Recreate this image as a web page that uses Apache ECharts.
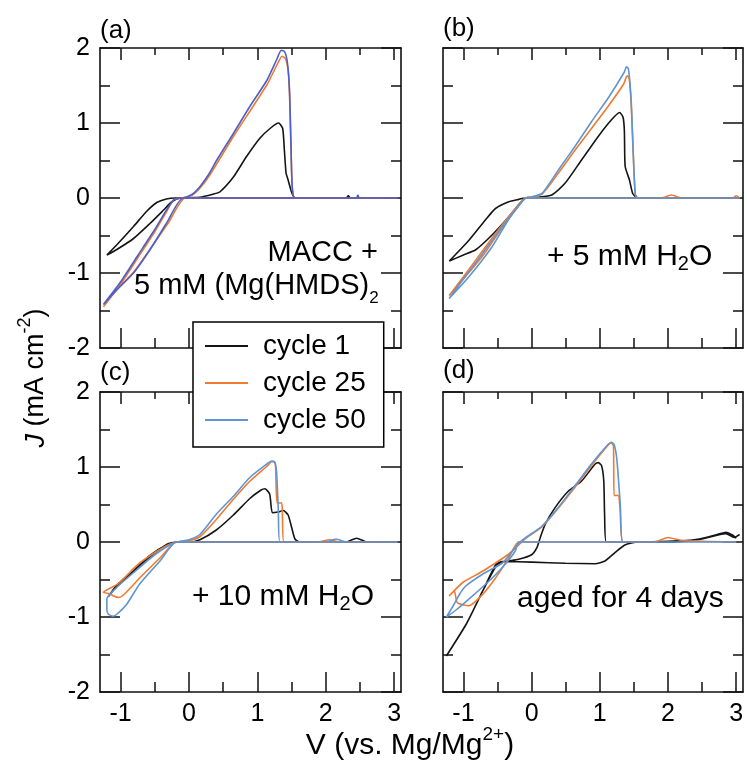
<!DOCTYPE html>
<html><head><meta charset="utf-8">
<script src="https://cdn.jsdelivr.net/npm/echarts@6/dist/echarts.min.js"></script>
<style>html,body{margin:0;padding:0;background:#fff}
#wrap{position:relative;width:747px;height:773px}
.l{position:absolute;left:0;top:0;width:747px;height:773px}</style>
</head><body><div id="wrap">
<div class="l" id="p0"></div><div class="l" id="p1"></div><div class="l" id="p2"></div><div class="l" id="p3"></div>
<div class="l" id="cols"></div><div class="l" id="o"></div></div>
<script>
// ---- axis / label data ----
const xMajorTicks = [-1, 0, 1, 2, 3];
const xMinorTicks = [-0.5, 0.5, 1.5, 2.5];
const xRange = [-1.3, 3.1];
const yRange = [-2, 2];
const cycleNames = ['cycle 1', 'cycle 25', 'cycle 50'];
const panelLabels = ['(a)', '(b)', '(c)', '(d)'];

// ---- panel (a): MACC + 5 mM Mg(HMDS)2 ----
const a_cycle1 = [[3.05,0],[1.6,0],[0.5,0],[-0.2,0],[-0.33,-0.013],[-0.47,-0.06],[-0.62,-0.18],[-0.81,-0.38],[-1.06,-0.63],[-1.2,-0.76],
  [-1.06,-0.69],[-0.81,-0.54],[-0.57,-0.34],[-0.37,-0.16],[-0.25,-0.05],[-0.13,0],[0.16,0.01],[0.35,0.05],[0.45,0.08],[0.65,0.28],
  [0.84,0.55],[1.04,0.8],[1.19,0.93],[1.31,1.0],[1.37,0.93],[1.395,0.64],[1.42,0.33],[1.45,0.24],[1.5,0.08],[1.55,0],[2.3,0],[2.33,0.03],[2.36,0],[3.05,0]];
const a_cycle25 = [[3.05,0],[1.6,0],[0.5,0],[-0.05,0],[-0.3,-0.33],[-0.55,-0.66],[-0.8,-0.98],[-1.05,-1.22],[-1.25,-1.45],
  [-1.0,-1.15],[-0.75,-0.8],[-0.5,-0.45],[-0.32,-0.17],[-0.22,-0.02],[-0.1,0],[0.05,0.04],[0.16,0.13],[0.3,0.3],[0.65,0.82],
  [1.14,1.51],[1.3,1.8],[1.36,1.89],[1.41,1.86],[1.45,1.7],[1.47,1.4],[1.49,0.75],[1.51,0.15],[1.55,0],[3.05,0]];
const a_cycle50 = [[3.05,0],[1.6,0],[0.5,0],[-0.08,0],[-0.33,-0.34],[-0.57,-0.69],[-0.81,-1.0],[-1.06,-1.23],[-1.25,-1.42],
  [-1.0,-1.12],[-0.75,-0.77],[-0.5,-0.42],[-0.3,-0.12],[-0.2,-0.01],[-0.08,0],[0.05,0.05],[0.16,0.15],[0.3,0.33],[0.41,0.51],
  [0.65,0.86],[0.89,1.22],[1.14,1.57],[1.28,1.84],[1.35,1.97],[1.4,1.95],[1.44,1.8],[1.47,1.44],[1.49,0.77],[1.51,0.15],[1.55,0],[2.45,0],[2.47,0.04],[2.49,0],[3.05,0]];

// ---- panel (b): + 5 mM H2O ----
const b_cycle1 = [[3.05,0],[1.6,0],[0.5,0],[-0.09,0],[-0.19,-0.018],[-0.335,-0.049],[-0.53,-0.14],[-0.675,-0.29],[-0.916,-0.56],[-1.207,-0.84],
  [-1.0,-0.76],[-0.82,-0.69],[-0.577,-0.49],[-0.335,-0.25],[-0.19,-0.09],[-0.09,0],[0.1,0.01],[0.295,0.04],[0.489,0.196],[0.732,0.507],
  [0.974,0.818],[1.168,1.04],[1.29,1.14],[1.34,1.08],[1.36,0.9],[1.372,0.42],[1.435,0.24],[1.483,0.06],[1.556,0],[3.05,0]];
const b_cycle25 = [[3.05,0],[1.6,0],[0.5,0],[-0.09,0],[-0.2,-0.1],[-0.4,-0.35],[-0.7,-0.75],[-1.0,-1.08],[-1.21,-1.3],
  [-1.0,-1.05],[-0.7,-0.68],[-0.4,-0.32],[-0.2,-0.1],[-0.09,0],[0.15,0.05],[0.39,0.33],[0.63,0.63],[0.88,0.93],[1.12,1.22],
  [1.35,1.52],[1.4,1.63],[1.43,1.6],[1.46,1.25],[1.49,0.6],[1.52,0.05],[1.56,0],[1.9,0],[2.05,0.04],[2.2,0],[2.95,0],[3.0,0.03],[3.05,0]];
const b_cycle50 = [[3.05,0],[1.6,0],[0.5,0],[-0.09,0],[-0.14,-0.05],[-0.34,-0.29],[-0.58,-0.65],[-0.92,-1.05],[-1.21,-1.34],
  [-1.01,-1.09],[-0.72,-0.74],[-0.43,-0.38],[-0.24,-0.16],[-0.09,0],[0.0,0.01],[0.15,0.06],[0.25,0.18],[0.39,0.37],[0.63,0.68],
  [0.88,1.02],[1.12,1.33],[1.36,1.68],[1.39,1.75],[1.42,1.72],[1.46,1.3],[1.49,0.6],[1.52,0.05],[1.56,0],[3.05,0]];

// ---- panel (c): + 10 mM H2O ----
const c_cycle1 = [[3.05,0],[1.6,0],[0.5,0],[-0.18,0],[-0.32,-0.03],[-0.57,-0.2],[-0.81,-0.4],[-1.06,-0.6],[-1.18,-0.73],
  [-1.06,-0.58],[-0.81,-0.38],[-0.57,-0.18],[-0.35,-0.05],[-0.18,0],[0.0,0.0],[0.16,0.03],[0.4,0.16],[0.65,0.36],[0.89,0.58],
  [1.05,0.69],[1.11,0.71],[1.18,0.64],[1.22,0.39],[1.3,0.4],[1.38,0.42],[1.45,0.36],[1.5,0.2],[1.55,0.04],[1.62,0],[2.3,0],[2.45,0.05],[2.6,0],[3.05,0]];
const c_cycle25 = [[3.05,0],[1.6,0],[0.5,0],[-0.18,0],[-0.42,-0.21],[-0.72,-0.48],[-0.96,-0.71],[-1.03,-0.74],[-1.1,-0.72],[-1.155,-0.69],[-1.25,-0.67],
  [-1.04,-0.56],[-0.72,-0.28],[-0.33,-0.05],[-0.18,0],[0.0,0.02],[0.16,0.07],[0.4,0.3],[0.65,0.57],[0.89,0.81],[1.14,1.01],
  [1.21,1.07],[1.26,1.06],[1.27,0.9],[1.29,0.52],[1.355,0.52],[1.365,0.4],[1.389,0],[1.9,0],[2.05,0.03],[2.2,0],[3.05,0]];
const c_cycle50 = [[3.05,0],[1.6,0],[0.5,0],[-0.18,0],[-0.42,-0.25],[-0.72,-0.56],[-0.91,-0.83],[-1.05,-0.96],[-1.11,-0.99],[-1.18,-0.96],[-1.2,-0.9],[-1.2,-0.76],
  [-1.05,-0.6],[-0.8,-0.4],[-0.5,-0.17],[-0.3,-0.05],[-0.18,0],[0.0,0.03],[0.16,0.1],[0.4,0.37],[0.65,0.61],[0.89,0.86],
  [1.14,1.04],[1.21,1.08],[1.25,1.07],[1.28,0.95],[1.306,0.44],[1.33,0],[2.0,0],[2.15,0.04],[2.3,0],[3.05,0]];

// ---- panel (d): aged for 4 days ----
const d_cycle1 = [[3.0,0.05],[2.95,0.09],[2.85,0.13],[2.72,0.1],[2.43,0.035],[2.0,0],[1.56,0],[1.367,-0.04],[1.222,-0.142],[1.076,-0.253],
  [0.931,-0.289],[0.495,-0.284],[0.01,-0.268],[-0.428,-0.262],[-0.524,-0.298],[-0.718,-0.653],[-0.96,-1.098],[-1.251,-1.52],
  [-0.95,-1.08],[-0.71,-0.64],[-0.52,-0.32],[-0.43,-0.27],[-0.19,-0.23],[0.0,-0.17],[0.077,-0.076],[0.126,0.058],[0.198,0.236],
  [0.344,0.458],[0.54,0.68],[0.733,0.813],[0.928,1.036],[0.977,1.058],[1.025,1.02],[1.058,0.813],[1.07,0.369],[1.095,0],
  [1.6,0],[2.43,0.03],[2.72,0.09],[2.85,0.11],[2.97,0.06],[3.05,0.1]];
const d_cycle25 = [[3.0,0],[2.2,0.02],[2.0,0.06],[1.8,0],[0.5,0],[-0.19,0],[-0.335,-0.21],[-0.53,-0.48],[-0.72,-0.7],[-0.92,-0.85],
  [-1.09,-0.81],[-1.135,-0.65],[-1.21,-0.72],[-1.01,-0.54],[-0.72,-0.39],[-0.335,-0.16],[-0.19,-0.04],[-0.1,0.04],[0.15,0.2],
  [0.39,0.45],[0.635,0.73],[0.877,1.02],[1.12,1.29],[1.17,1.32],[1.2,1.28],[1.21,0.62],[1.27,0.62],[1.3,0.4],[1.34,0],[1.8,0],[2.0,0.06],[2.2,0.02],[3.0,0]];
const d_cycle50 = [[3.0,0],[1.6,0],[0.5,0],[-0.19,0],[-0.24,-0.12],[-0.43,-0.34],[-0.67,-0.56],[-0.92,-0.76],[-1.1,-0.9],[-1.25,-1.0],
  [-1.15,-0.85],[-1.06,-0.7],[-0.97,-0.59],[-0.72,-0.43],[-0.43,-0.28],[-0.28,-0.12],[-0.19,-0.02],[-0.1,0.05],[0.15,0.21],
  [0.39,0.46],[0.635,0.75],[0.877,1.04],[1.12,1.3],[1.17,1.33],[1.21,1.3],[1.25,1.1],[1.3,0.5],[1.34,0],[3.0,0]];

const panelData = [
  [a_cycle1, a_cycle25, a_cycle50],
  [b_cycle1, b_cycle25, b_cycle50],
  [c_cycle1, c_cycle25, c_cycle50],
  [d_cycle1, d_cycle25, d_cycle50]
];

// ---- styling ----
const FONT = '"Liberation Sans", Arial, Helvetica, sans-serif';
const colorsDefault = ['#151515', '#f27a2f', '#5e95d2'];
const colorsA = ['#151515', '#f27a2f', '#4a5fcb'];
const grids = [
  {left: 100, top: 48, width: 301, height: 300},
  {left: 443, top: 48, width: 300, height: 300},
  {left: 100, top: 392, width: 301, height: 300},
  {left: 443, top: 392, width: 300, height: 300}
];
const lineCol = '#111';

// ---- one instance per panel: frame, ticks, labels and the cycle-1 curve ----
grids.forEach((g, i) => {
  const showX = i >= 2, showY = (i % 2) === 0;
  const mk = (pos, ticks, len, line, labels) => ({
    type: 'value', min: xRange[0], max: xRange[1], position: pos,
    axisLine: {show: line, onZero: false, lineStyle: {color: lineCol, width: 1.6}},
    axisTick: {show: true, inside: true, length: len, customValues: ticks, lineStyle: {color: lineCol, width: 1.5}},
    axisLabel: {show: labels, customValues: ticks, margin: 10, fontSize: 25, color: '#000', fontFamily: FONT},
    splitLine: {show: false}
  });
  const mky = (pos, labels) => ({
    type: 'value', min: yRange[0], max: yRange[1], interval: 1, position: pos,
    axisLine: {show: true, onZero: false, lineStyle: {color: lineCol, width: 1.6}},
    axisTick: {show: true, inside: true, length: 20, lineStyle: {color: lineCol, width: 1.5}},
    minorTick: {show: true, splitNumber: 2, length: 10, lineStyle: {color: lineCol, width: 1.5}},
    axisLabel: {show: labels, margin: 10, fontSize: 25, color: '#000', fontFamily: FONT},
    splitLine: {show: false}, minorSplitLine: {show: false}
  });
  const ch = echarts.init(document.getElementById('p' + i));
  ch.setOption({animation: false, grid: g,
    xAxis: [mk('bottom', xMajorTicks, 20, true, showX), mk('bottom', xMinorTicks, 10, false, false),
            mk('top', xMajorTicks, 12, true, false), mk('top', xMinorTicks, 7, false, false)],
    yAxis: [mky('left', showY), mky('right', false)],
    series: [{type: 'line', name: cycleNames[0], data: panelData[i][0], showSymbol: false, smooth: 0.2,
              lineStyle: {color: colorsDefault[0], width: 1.6}}]
  });
});

// ---- cycle 25 and cycle 50 curves on the same scales ----
const colSeries = [];
grids.forEach((g, i) => {
  const cols = i === 0 ? colorsA : colorsDefault;
  [1, 2].forEach(k => colSeries.push({
    type: 'line', name: cycleNames[k], xAxisIndex: i, yAxisIndex: i, data: panelData[i][k],
    showSymbol: false, smooth: 0.2, lineStyle: {color: cols[k], width: 1.6}, itemStyle: {color: cols[k]}
  }));
});
const colChart = echarts.init(document.getElementById('cols'));
colChart.setOption({
  animation: false, grid: grids,
  xAxis: grids.map((g, i) => ({gridIndex: i, type: 'value', min: xRange[0], max: xRange[1], show: false})),
  yAxis: grids.map((g, i) => ({gridIndex: i, type: 'value', min: yRange[0], max: yRange[1], show: false})),
  series: colSeries
});

// ---- overlay: texts + legend ----
const graphic = [];
const labelPos = [[100, 31], [443, 29], [100, 373], [443, 371]];
panelLabels.forEach((t, i) => graphic.push({type: 'text', x: labelPos[i][0], y: labelPos[i][1],
  style: {text: t, fontSize: 26, fontFamily: FONT, fill: '#000', align: 'left', verticalAlign: 'middle'}}));
const subRich = size => ({sub: {fontSize: size, lineHeight: 10, verticalAlign: 'bottom', fontFamily: FONT, fill: '#000'}});
graphic.push({type: 'text', x: 378, y: 253, style: {text: 'MACC +', fontSize: 29, fontFamily: FONT, fill: '#000', align: 'right', verticalAlign: 'middle'}});
graphic.push({type: 'text', x: 134, y: 286, style: {text: '5 mM (Mg(HMDS){sub|2}', fontSize: 29, lineHeight: 42, fontFamily: FONT, fill: '#000', align: 'left', verticalAlign: 'middle', rich: subRich(17)}});
graphic.push({type: 'text', x: 547, y: 257, style: {text: '+ 5 mM H{sub|2}O', fontSize: 30, lineHeight: 35, fontFamily: FONT, fill: '#000', align: 'left', verticalAlign: 'middle', rich: subRich(20)}});
graphic.push({type: 'text', x: 192, y: 597, style: {text: '+ 10 mM H{sub|2}O', fontSize: 30, lineHeight: 35, fontFamily: FONT, fill: '#000', align: 'left', verticalAlign: 'middle', rich: subRich(20)}});
graphic.push({type: 'text', x: 517, y: 599, style: {text: 'aged for 4 days', fontSize: 30, fontFamily: FONT, fill: '#000', align: 'left', verticalAlign: 'middle'}});
graphic.push({type: 'text', x: 36, y: 378, rotation: Math.PI / 2,
  style: {text: '{it|J} (mA cm{sup|-2})', fontSize: 27, lineHeight: 40, fontFamily: FONT, fill: '#000', align: 'center', verticalAlign: 'middle',
    rich: {it: {fontStyle: 'italic', fontSize: 27, fontFamily: FONT, fill: '#000'}, sup: {fontSize: 18, lineHeight: 10, verticalAlign: 'top', fontFamily: FONT, fill: '#000'}}}});
graphic.push({type: 'text', x: 410, y: 746,
  style: {text: 'V (vs. Mg/Mg{sup|2+})', fontSize: 30, lineHeight: 42, fontFamily: FONT, fill: '#000', align: 'center', verticalAlign: 'middle',
    rich: {sup: {fontSize: 19, lineHeight: 10, verticalAlign: 'top', fontFamily: FONT, fill: '#000'}}}});

const overlay = echarts.init(document.getElementById('o'));
overlay.setOption({
  animation: false,
  grid: {show: false, left: 0, top: 0, width: 10, height: 10},
  xAxis: {show: false, type: 'value'}, yAxis: {show: false, type: 'value'},
  legend: {
    data: cycleNames, orient: 'vertical', left: 193, top: 322, selectedMode: false,
    icon: 'rect', padding: [10, 18, 13, 12], itemGap: 9, itemWidth: 43, itemHeight: 2,
    backgroundColor: '#fff', borderColor: '#000', borderWidth: 1.5,
    textStyle: {fontSize: 28, color: '#000', fontFamily: FONT, padding: [0, 0, 0, 10]}
  },
  series: cycleNames.map((n, k) => ({name: n, type: 'line', data: [], itemStyle: {color: colorsDefault[k]}, lineStyle: {color: colorsDefault[k]}})),
  graphic: graphic
});
</script></body></html>
